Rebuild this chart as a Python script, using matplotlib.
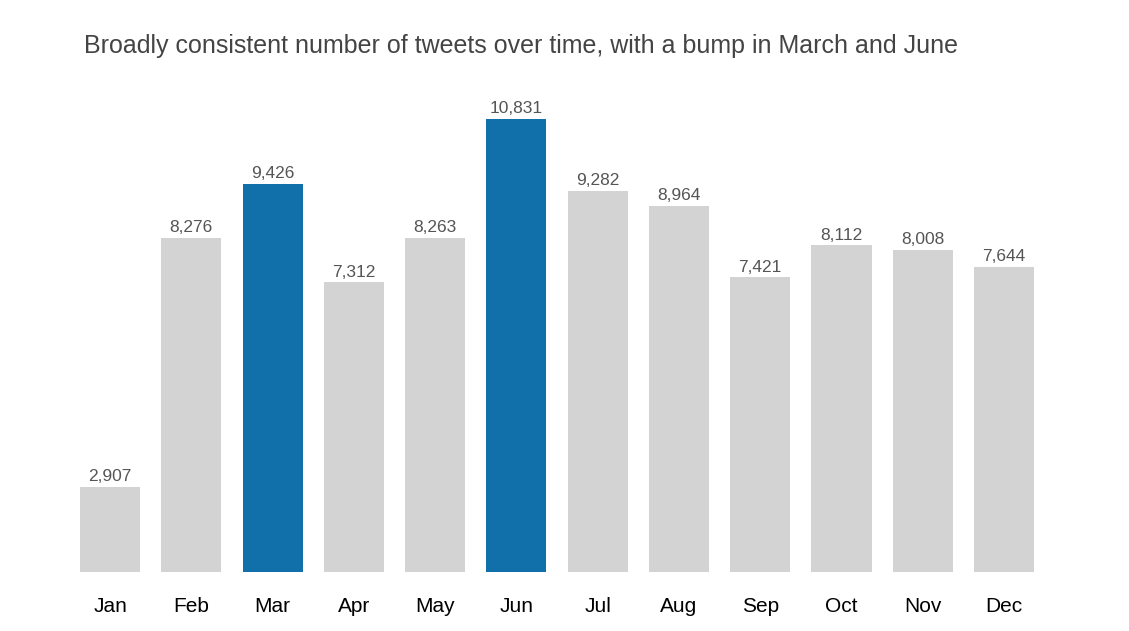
import matplotlib
matplotlib.use("Agg")
from matplotlib import pyplot as plt

months = ["Jan", "Feb", "Mar", "Apr", "May", "Jun", "Jul", "Aug", "Sep", "Oct", "Nov", "Dec"]
tweets = [2907, 8276, 9426, 7312, 8263, 10831, 9282, 8964, 7421, 8112, 8008, 7644]
highlight = ["Mar", "Jun"]

GREY = "#d3d3d3"
BLUE = "#1170aa"

plt.rcParams["font.family"] = ["Liberation Sans", "DejaVu Sans"]

fig = plt.figure(figsize=(11.29, 6.31), dpi=100)
ax = fig.add_axes([0.0615, 0.0935, 0.8638, 0.748])

colors = [BLUE if m in highlight else GREY for m in months]
x = list(range(len(months)))
ax.bar(x, tweets, width=0.74, color=colors)

for xi, v in zip(x, tweets):
    ax.annotate(f"{v:,}", (xi, v), xytext=(0, 2), textcoords="offset points",
                ha="center", va="bottom", fontsize=12.5, color="#555555")

ax.set_xlim(-0.5, len(months) - 0.5)
ax.set_ylim(1077, 11240)
ax.set_xticks(x)
ax.set_xticklabels(months, fontsize=15, color="black")
ax.tick_params(axis="x", length=0, pad=18)
ax.set_yticks([])
for s in ax.spines.values():
    s.set_visible(False)

fig.text(0.0745, 0.927, "Broadly consistent number of tweets over time, with a bump in March and June",
         fontsize=18, color="#444444", ha="left", va="center")

fig.savefig("out.png", dpi=100)
